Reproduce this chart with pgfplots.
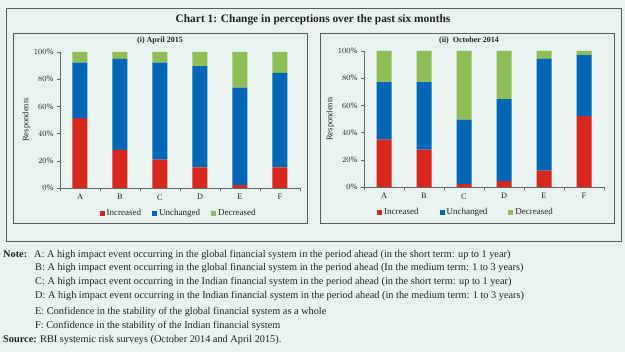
\documentclass[border=0pt]{standalone}
\usepackage{fontspec}
\setmainfont{Liberation Serif}
\usepackage{pgfplots}
\pgfplotsset{compat=1.18}
\definecolor{bg}{RGB}{231,243,238}
\definecolor{cred}{RGB}{214,40,32}
\definecolor{cblue}{RGB}{0,102,184}
\definecolor{cgreen}{RGB}{143,190,88}
\definecolor{frame}{RGB}{85,95,90}
\definecolor{txt}{RGB}{35,35,35}
\pgfplotsset{rbi/.style={
  scale only axis, width=240bp, height=136bp,
  xmin=-0.5, xmax=5.5, ymin=0, ymax=100,
  ybar stacked, bar width=15bp,
  axis x line*=bottom, axis y line*=left,
  axis line style={draw=gray!80!black, line width=0.5pt},
  tick style={draw=gray!80!black, line width=0.5pt},
  tick align=outside, major tick length=3bp,
  xtick={-0.5,0.5,...,5.5}, xticklabels={},
  extra x ticks={0,1,2,3,4,5},
  extra x tick labels={A,B,C,D,E,F},
  extra x tick style={major tick length=0pt, xticklabel style={yshift=-3bp}},
  ytick={0,20,...,100},
  yticklabel={\pgfmathprintnumber{\tick}\%},
  ticklabel style={font=\fontsize{8.3bp}{9bp}\selectfont, text=txt},
  ylabel={Respondents},
  ylabel style={font=\fontsize{8.5bp}{9bp}\selectfont, text=txt,
    at={(axis description cs:-0.14,0.5)}, anchor=center},
  legend columns=3,
  legend style={draw=none, fill=none, font=\fontsize{9bp}{10bp}\selectfont, text=txt,
    /tikz/every odd column/.append style={column sep=0bp}},
  legend image code/.code={\fill[##1] (0bp,-2.5bp) rectangle (5bp,2.5bp);},
}}
\begin{document}
\begin{tikzpicture}
\fill[bg] (0bp,0bp) rectangle (625bp,352bp);
\draw[frame, line width=0.6pt] (6bp,111bp) rectangle (621bp,344bp);
\draw[frame, line width=0.6pt] (13bp,129bp) rectangle (307bp,319bp);
\draw[frame, line width=0.6pt] (320bp,129bp) rectangle (614bp,319bp);
\node[text=txt, font=\bfseries\fontsize{11.4bp}{12bp}\selectfont] at (313bp,332bp) {Chart 1: Change in perceptions over the past six months};
\node[text=txt, font=\bfseries\fontsize{8bp}{9bp}\selectfont] at (160bp,311bp) {(i) April 2015};
\node[text=txt, font=\bfseries\fontsize{8bp}{9bp}\selectfont] at (469bp,311bp) {(ii)\ \ October 2014};

\begin{axis}[rbi, at={(60bp,164bp)}, anchor=south west,
  legend style={at={(0.494,-0.184)}, anchor=center,
    /tikz/every even column/.append style={column sep=9bp}}]
\addplot[fill=cred, draw=none] coordinates {(0,51.3) (1,28.1) (2,20.8) (3,15.2) (4,2.2) (5,15.2)};
\addplot[fill=cblue, draw=none] coordinates {(0,40.9) (1,66.8) (2,71.4) (3,74.5) (4,71.6) (5,69.4)};
\addplot[fill=cgreen, draw=none] coordinates {(0,7.8) (1,5.1) (2,7.8) (3,10.3) (4,26.2) (5,15.4)};
\legend{Increased,Unchanged,Decreased}
\end{axis}

\begin{axis}[rbi, at={(364bp,165bp)}, anchor=south west,
  legend style={at={(0.425,-0.184)}, anchor=center,
    /tikz/every even column/.append style={column sep=19bp}}]
\addplot[fill=cred, draw=none] coordinates {(0,34.9) (1,27.5) (2,2.2) (3,4.4) (4,12.0) (5,52.1)};
\addplot[fill=cblue, draw=none] coordinates {(0,42.2) (1,49.6) (2,47.4) (3,60.2) (4,82.3) (5,44.9)};
\addplot[fill=cgreen, draw=none] coordinates {(0,22.9) (1,22.9) (2,50.4) (3,35.4) (4,5.7) (5,3.0)};
\legend{Increased,Unchanged,Decreased}
\end{axis}

\begin{scope}[every node/.style={anchor=base west, inner sep=0pt, text=txt, font=\fontsize{10.3bp}{11bp}\selectfont}]
\node at (3bp,94bp) {\textbf{Note:}};
\node at (34bp,94bp) {A: A high impact event occurring in the global financial system in the period ahead (in the short term: up to 1 year)};
\node at (35bp,81bp) {B: A high impact event occurring in the global financial system in the period ahead (In the medium term: 1 to 3 years)};
\node at (35bp,67bp) {C: A high impact event occurring in the Indian financial system in the period ahead (in the short term: up to 1 year)};
\node at (35bp,53bp) {D: A high impact event occurring in the Indian financial system in the period ahead (in the medium term: 1 to 3 years)};
\node at (35bp,38bp) {E: Confidence in the stability of the global financial system as a whole};
\node at (35bp,24bp) {F: Confidence in the stability of the Indian financial system};
\node at (3bp,10bp) {\textbf{Source:} RBI systemic risk surveys (October 2014 and April 2015).};
\end{scope}
\end{tikzpicture}
\end{document}
